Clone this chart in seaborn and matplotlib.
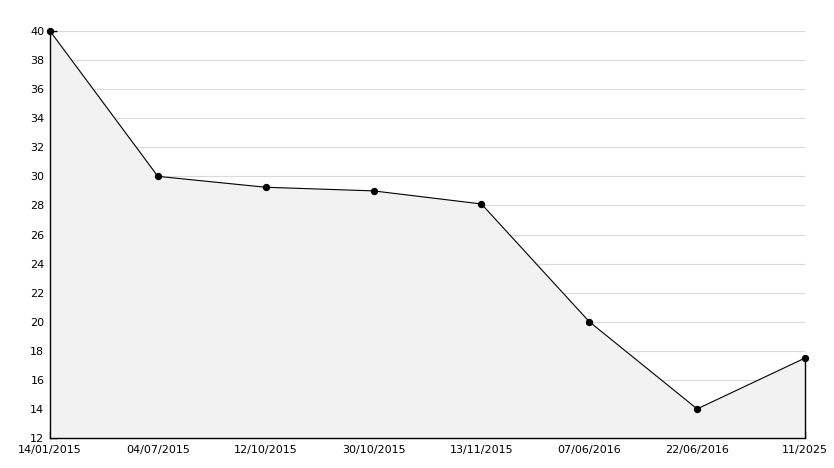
import numpy as np
import pandas as pd
import matplotlib
matplotlib.use("Agg")
import matplotlib.pyplot as plt
import seaborn as sns

dates = ["14/01/2015", "04/07/2015", "12/10/2015", "30/10/2015",
         "13/11/2015", "07/06/2016", "22/06/2016", "11/2025"]
values = [40, 30, 29.25, 29, 28.1, 20, 14, 17.5]

df = pd.DataFrame({"pos": np.arange(len(dates)), "value": values})

sns.set_style("white")
plt.rcParams["font.family"] = ["DejaVu Sans"]
plt.rcParams["xtick.color"] = "black"
plt.rcParams["ytick.color"] = "black"
plt.rcParams["xtick.labelcolor"] = "black"
plt.rcParams["ytick.labelcolor"] = "black"

fig = plt.figure(figsize=(8.34, 4.68), dpi=100)
ax = fig.add_axes([50 / 834, 30 / 468, 755 / 834, 407 / 468])

ax.fill_between(df["pos"], df["value"], 12, color="#f2f2f2", zorder=1)
ax.plot([df["pos"].iloc[-1]] * 2, [12, values[-1]], color="black", lw=1,
        zorder=2, clip_on=False)
sns.lineplot(data=df, x="pos", y="value", ax=ax, color="black", lw=0.8,
             marker="o", markersize=4.5, markeredgecolor="black", sort=False,
             zorder=3, clip_on=False)

ax.set_xlim(0, len(dates) - 1)
ax.set_ylim(12, 40)
ax.set_yticks(np.arange(12, 41, 2))
ax.set_yticks(np.arange(13, 40, 2), minor=True)
ax.set_xticks(df["pos"])
ax.set_xticklabels(dates)
ax.set_xlabel("")
ax.set_ylabel("")

for y in np.arange(14, 41, 2):
    ax.axhline(y, color="#d9d9d9", lw=0.8, zorder=0)

for s in ["top", "right"]:
    ax.spines[s].set_visible(False)
for s in ["left", "bottom"]:
    ax.spines[s].set_color("black")
    ax.spines[s].set_linewidth(1)

ax.tick_params(axis="y", which="major", direction="in", length=5, width=1,
               labelsize=8, left=True, pad=4)
ax.tick_params(axis="y", which="minor", direction="in", length=3, width=1, left=True)
ax.tick_params(axis="x", which="major", direction="in", length=5, width=1,
               labelsize=8, bottom=True, pad=5)

fig.savefig("out.png", dpi=100)
